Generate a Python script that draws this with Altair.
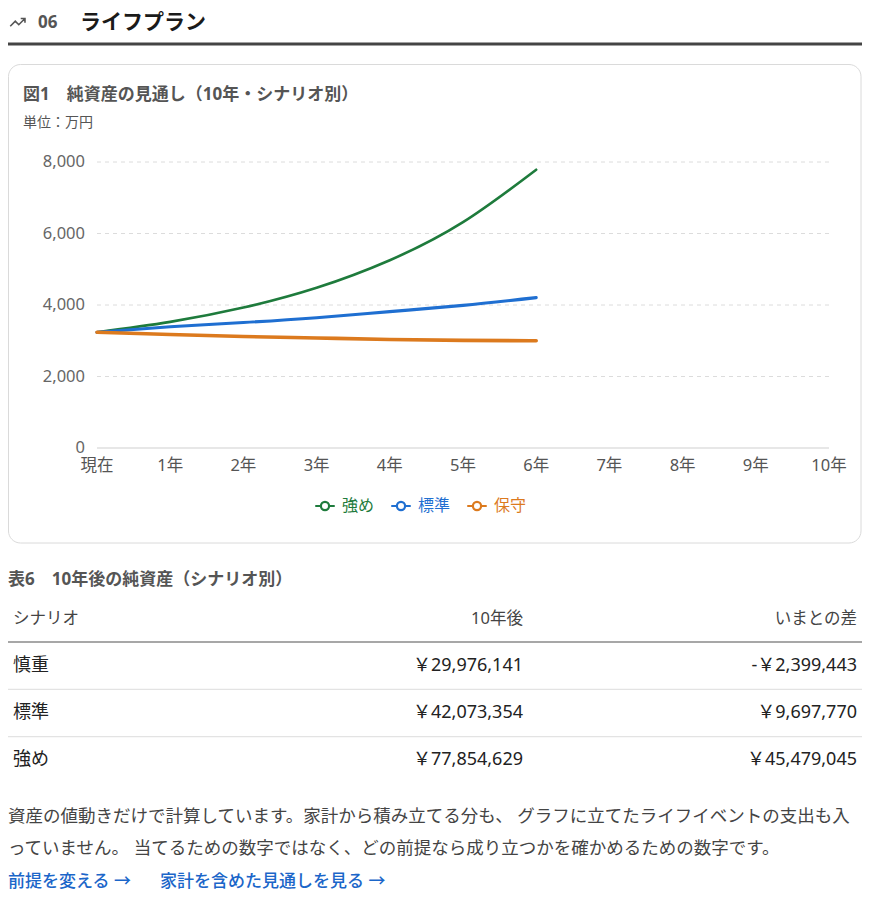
import altair as alt
import pandas as pd

FONT = "Noto Sans, Noto Sans CJK JP"

# x axis categories (the series only run to 6年 in the original)
years = ["現在", "1年", "2年", "3年", "4年", "5年", "6年", "7年", "8年", "9年", "10年"]
scenarios = ["強め", "標準", "保守"]
colors = ["#1e7b3c", "#1f6fd1", "#dc7a1e"]

# net assets, 万円
strong = [3238, 3528, 3928, 4483, 5253, 6318, 7785]
standard = [3238, 3390, 3510, 3645, 3815, 3990, 4207]
careful = [3238, 3175, 3120, 3077, 3035, 3010, 2998]
y_ticks = [0, 2000, 4000, 6000, 8000]

# table 6
table_rows = ["慎重", "標準", "強め"]
after_10y = [29976141, 42073354, 77854629]
diff_now = [-2399443, 9697770, 45479045]

note_lines = [
    "資産の値動きだけで計算しています。家計から積み立てる分も、 グラフに立てたライフイベントの支出も入",
    "っていません。 当てるための数字ではなく、どの前提なら成り立つかを確かめるための数字です。",
]


def yen(v):
    return ("-￥" if v < 0 else "￥") + f"{abs(v):,}"


rows = []
for name, vals in zip(scenarios, [strong, standard, careful]):
    for i, v in enumerate(vals):
        rows.append({"series": name, "year": years[i], "step": i, "value": v})
lines_df = pd.DataFrame(rows)
ticks_df = pd.DataFrame({"v": y_ticks})
years_df = pd.DataFrame({"year": years})
legend_df = pd.DataFrame({"series": scenarios})
table_df = pd.DataFrame({"name": table_rows,
                         "after": [yen(v) for v in after_10y],
                         "diff": [yen(v) for v in diff_now]})
note_df = pd.DataFrame({"line": note_lines, "n": [0, 1]})

x_scale = alt.Scale(domain=years, range=[89, 821], padding=0)
y_scale = alt.Scale(domain=[0, 8000], range=[440, 154])
color_scale = alt.Scale(domain=scenarios, range=colors)
legend_scale = alt.Scale(domain=scenarios, range=[317, 469], padding=0)
row_scale = alt.Scale(type="band", domain=table_rows, range=[634, 776],
                      paddingInner=0, paddingOuter=0)
note_scale = alt.Scale(domain=[0, 1], range=[809, 841])


def label(text, x, y, size, color, weight="normal", align="left", **kw):
    return alt.Chart(pd.DataFrame({"t": [text]})).mark_text(
        align=align, baseline="middle", font=FONT, fontSize=size,
        color=color, fontWeight=weight, **kw
    ).encode(x=alt.value(x), y=alt.value(y), text="t:N")


def hline(x1, x2, y, color, width, **kw):
    return alt.Chart(pd.DataFrame({"t": [0]})).mark_rule(
        color=color, strokeWidth=width, **kw
    ).encode(x=alt.value(x1), x2=alt.value(x2), y=alt.value(y))


trend_icon = "M-1,0.55L-0.35,-0.1L0.1,0.35L0.9,-0.45M0.35,-0.45L0.9,-0.45L0.9,0.1"
legend_symbol = ("M-1,0H-0.42M0.42,0H1M0.42,0A0.42,0.42 0 1,1 -0.42,0"
                 "A0.42,0.42 0 1,1 0.42,0")

# header
icon = alt.Chart(pd.DataFrame({"t": [0]})).mark_point(
    shape=trend_icon, size=240, filled=False, strokeWidth=1.6,
    color="#555", opacity=1
).encode(x=alt.value(10), y=alt.value(14))
header = [
    icon,
    label("06", 30, 15, 17, "#555", "bold"),
    label("ライフプラン", 72, 15, 21, "#1a1a1a", "bold"),
    hline(0, 854, 36, "#444", 3),
]

# card
card = alt.Chart(pd.DataFrame({"t": [0]})).mark_rect(
    cornerRadius=12, fill="white", stroke="#dadada", strokeWidth=1
).encode(x=alt.value(0.5), x2=alt.value(853), y=alt.value(56.5), y2=alt.value(535))

grid = alt.Chart(ticks_df).transform_filter("datum.v > 0").mark_rule(
    color="#dcdcdc", strokeDash=[4, 4]
).encode(x=alt.value(89), x2=alt.value(821),
         y=alt.Y("v:Q", scale=y_scale, axis=None))
base = alt.Chart(ticks_df).transform_filter("datum.v == 0").mark_rule(
    color="#cfcfcf", strokeWidth=1.2
).encode(x=alt.value(89), x2=alt.value(821),
         y=alt.Y("v:Q", scale=y_scale, axis=None))
y_labels = alt.Chart(ticks_df).mark_text(
    align="right", baseline="middle", font=FONT, fontSize=16.5, color="#666"
).encode(x=alt.value(77), y=alt.Y("v:Q", scale=y_scale, axis=None),
         text=alt.Text("v:Q", format=","))
x_labels = alt.Chart(years_df).mark_text(
    align="center", baseline="middle", font=FONT, fontSize=16.5, color="#555"
).encode(x=alt.X("year:N", scale=x_scale, axis=None), y=alt.value(458),
         text="year:N")

lines = alt.Chart(lines_df).mark_line(interpolate="natural", strokeCap="round").encode(
    x=alt.X("year:N", scale=x_scale, axis=None),
    y=alt.Y("value:Q", scale=y_scale, axis=None),
    color=alt.Color("series:N", scale=color_scale, legend=None),
    strokeWidth=alt.StrokeWidth("series:N", legend=None,
                                scale=alt.Scale(domain=scenarios, range=[2.6, 3.6, 3])),
    order="step:Q",
)

legend_marks = alt.Chart(legend_df).mark_point(
    shape=legend_symbol, size=380, filled=False, strokeWidth=2.2, opacity=1
).encode(x=alt.X("series:N", scale=legend_scale, axis=None), y=alt.value(498),
         color=alt.Color("series:N", scale=color_scale, legend=None))
legend_text = alt.Chart(legend_df).mark_text(
    align="left", baseline="middle", dx=17, font=FONT, fontSize=16
).encode(x=alt.X("series:N", scale=legend_scale, axis=None), y=alt.value(498),
         color=alt.Color("series:N", scale=color_scale, legend=None),
         text="series:N")

card_parts = [
    card,
    label("図1　純資産の見通し（10年・シナリオ別）", 15, 87, 17, "#555", "bold"),
    label("単位：万円", 15, 115, 14, "#555"),
    grid, base, y_labels, x_labels, lines, legend_marks, legend_text,
]

# table
row_mid = alt.Y("name:N", scale=row_scale, axis=None)
row_top = alt.Y("name:N", scale=row_scale, axis=None, bandPosition=0)


def cell(field, x, align):
    return alt.Chart(table_df).mark_text(
        align=align, baseline="middle", font=FONT, fontSize=18, color="#222"
    ).encode(x=alt.value(x), y=row_mid, text=f"{field}:N")


table_parts = [
    label("表6　10年後の純資産（シナリオ別）", 0, 572, 17, "#555", "bold"),
    label("シナリオ", 5, 611, 16.5, "#444"),
    label("10年後", 515, 611, 16.5, "#444", align="right"),
    label("いまとの差", 849, 611, 16.5, "#444", align="right"),
    hline(0, 854, 634, "#8a8a8a", 1.5),
    alt.Chart(table_df).transform_filter("datum.name != '慎重'").mark_rule(
        color="#e3e3e3", strokeWidth=1.2
    ).encode(x=alt.value(0), x2=alt.value(854), y=row_top),
    cell("name", 5, "left"),
    cell("after", 515, "right"),
    cell("diff", 849, "right"),
]

footer = [
    alt.Chart(note_df).mark_text(
        align="left", baseline="middle", font=FONT, fontSize=17.5, color="#444"
    ).encode(x=alt.value(0), y=alt.Y("n:Q", scale=note_scale, axis=None),
             text="line:N"),
    label("前提を変える →", 0, 874, 17, "#1b66c9", 500),
    label("家計を含めた見通しを見る →", 152, 874, 17, "#1b66c9", 500),
]

chart = alt.layer(*header, *card_parts, *table_parts, *footer).resolve_scale(
    x="independent", y="independent"
).properties(
    width=854, height=886, autosize="none", padding=0, background="white"
).configure_view(stroke=None)

chart.save("out.html", embed_options={"renderer": "svg", "actions": False})
